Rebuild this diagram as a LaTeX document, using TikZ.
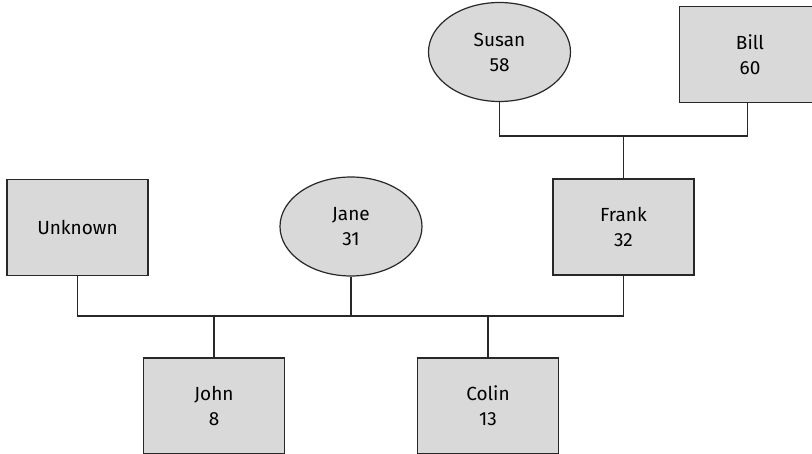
\documentclass[tikz,border=0pt]{standalone}
\usepackage{fontspec}
\setmainfont{Fira Sans}
\usetikzlibrary{shapes.geometric}
\definecolor{boxfill}{RGB}{217,217,217}
\definecolor{edge}{RGB}{40,40,40}
\tikzset{
  person/.style={draw=edge, fill=boxfill, line width=1.2pt, align=center,
    font=\fontsize{19}{25}\selectfont, inner sep=0pt},
  male/.style={person, rectangle, minimum width=141pt, minimum height=96pt},
  female/.style={person, ellipse, minimum width=142pt, minimum height=99pt},
  link/.style={draw=edge, line width=1.2pt}
}
\begin{document}
\begin{tikzpicture}[x=1pt,y=1pt]
\useasboundingbox (0,0) rectangle (812,-454);
\begin{scope}
\clip (0,0) rectangle (812,-454);
\node[female] (susan) at (499.5,-52) {Susan\\58};
\node[male] (bill) at (750,-54.5) {Bill\\60};
\node[male] (frank) at (623.5,-227) {Frank\\32};
\node[male] (unknown) at (77.5,-227.5) {Unknown};
\node[female] (jane) at (351,-226.5) {Jane\\31};
\node[male] (john) at (214,-406) {John\\8};
\node[male] (colin) at (488,-406) {Colin\\13};
\coordinate (b1) at (623.5,-136);
\coordinate (b2) at (351,-316);
\draw[link] (susan.south) |- (b1) -| ([xshift=-2.5pt]bill.south);
\draw[link] (b1) -- (frank.north);
\draw[link] (unknown.south) |- (b2) -| (frank.south);
\draw[link] (jane.south) -- (b2);
\draw[link] (john.north) |- (b2);
\draw[link] (colin.north) |- (b2);
\end{scope}
\end{tikzpicture}
\end{document}
